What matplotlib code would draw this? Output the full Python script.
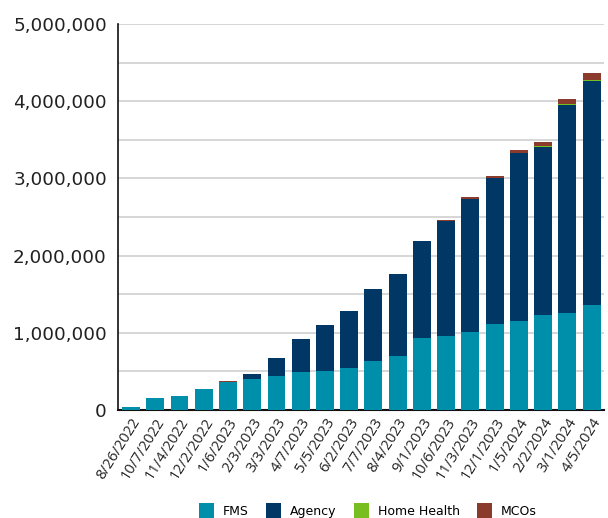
import numpy as np
import matplotlib.pyplot as plt
from matplotlib.ticker import FuncFormatter

dates = ['8/26/2022', '10/7/2022', '11/4/2022', '12/2/2022', '1/6/2023',
         '2/3/2023', '3/3/2023', '4/7/2023', '5/5/2023', '6/2/2023',
         '7/7/2023', '8/4/2023', '9/1/2023', '10/6/2023', '11/3/2023',
         '12/1/2023', '1/5/2024', '2/2/2024', '3/1/2024', '4/5/2024']

fms = [35000, 160000, 185000, 275000, 365000,
       405000, 444000, 496000, 509000, 548000,
       639000, 703000, 933000, 959000, 1010000,
       1118000, 1153000, 1231000, 1256000, 1360000]
agency = [0, 0, 0, 0, 0,
          65000, 233000, 424000, 592000, 734000,
          928000, 1059000, 1256000, 1487000, 1723000,
          1891000, 2171000, 2176000, 2695000, 2902000]
home_health = [0, 0, 0, 0, 3000,
               0, 0, 0, 0, 0,
               0, 0, 0, 0, 0,
               0, 5000, 15000, 17000, 17000]
mcos = [0, 0, 0, 0, 4000,
        0, 0, 0, 0, 0,
        0, 0, 0, 15000, 30000,
        26000, 43000, 53000, 59000, 86000]

series_names = ['FMS', 'Agency', 'Home Health', 'MCOs']
colors = ['#008fab', '#003764', '#78be21', '#8a3b2b']

plt.rcParams['font.family'] = ['DejaVu Sans']

fig = plt.figure(figsize=(6.08, 5.18), dpi=100)
ax = fig.add_axes([0.194, 0.2085, 0.799, 0.7452])

x = np.arange(len(dates))
bottom = np.zeros(len(dates))
for vals, name, col in zip([fms, agency, home_health, mcos], series_names, colors):
    vals = np.array(vals, dtype=float)
    ax.bar(x, vals, bottom=bottom, width=0.74, color=col, label=name, zorder=3)
    bottom += vals

ax.set_ylim(0, 5000000)
ax.set_xlim(-0.54, 19.5)
ax.set_yticks(np.arange(0, 5000001, 1000000))
ax.set_yticks(np.arange(0, 5000001, 500000), minor=True)
ax.yaxis.set_major_formatter(FuncFormatter(lambda v, p: f'{int(v):,}'))
ax.grid(axis='y', which='both', color='#d0d0d0', linewidth=1.2, zorder=0)
ax.tick_params(axis='y', which='both', length=0, labelsize=13.2, colors='#222222', pad=8)

ax.set_xticks(x)
ax.set_xticklabels(dates, rotation=58, ha='right', rotation_mode='anchor',
                   fontsize=10.5, family='Open Sans')
ax.tick_params(axis='x', length=0, pad=4, colors='#222222')

for side in ['top', 'right']:
    ax.spines[side].set_visible(False)
ax.spines['left'].set_color('#111111')
ax.spines['bottom'].set_color('#111111')
ax.spines['left'].set_linewidth(1.2)
ax.spines['bottom'].set_linewidth(1.5)

fig.legend(loc='lower center', bbox_to_anchor=(0.605, -0.022), ncol=4, frameon=False,
           fontsize=9, handlelength=1.2, handleheight=1.5, columnspacing=1.4,
           handletextpad=0.7)

plt.savefig('out.png', dpi=100)
